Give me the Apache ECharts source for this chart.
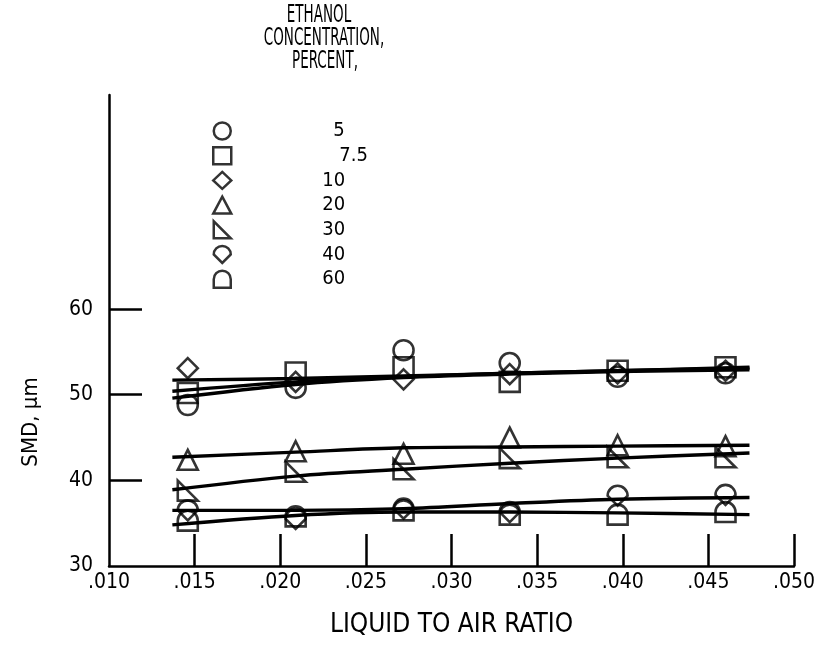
<!DOCTYPE html>
<html>
<head>
<meta charset="utf-8">
<script src="https://cdn.jsdelivr.net/npm/echarts@6/dist/echarts.min.js"></script>
<style>
  html, body { margin: 0; padding: 0; background: #fff; }
  #chart { width: 820px; height: 648px; }
</style>
</head>
<body>
<div id="chart"></div>
<script>
// Liquid-to-air ratio at which the drop sizes were measured
const ratios = [0.0146, 0.0209, 0.0272, 0.0334, 0.0397, 0.0460];

// Measured SMD (µm) for each ethanol concentration
const smd5   = [48.8, 50.8, 55.2, 53.7, 52.1, 52.5];
const smd7_5 = [50.2, 52.6, 53.2, 51.5, 52.8, 53.2];
const smd10  = [53.1, 51.5, 51.8, 52.4, 52.5, 52.8];
const smd20  = [42.4, 43.4, 43.1, 45.0, 44.1, 44.0];
const smd30  = [38.8, 41.0, 41.3, 42.6, 42.7, 42.7];
const smd40  = [36.5, 35.5, 36.7, 36.3, 38.2, 38.3];
const smd60  = [35.3, 35.8, 36.5, 36.0, 36.0, 36.3];

// Faired curves through each set of points
const fitRatios = [0.0137, 0.0209, 0.0272, 0.0334, 0.0397, 0.0474];
const fit5   = [49.6, 51.2, 52.0, 52.4, 52.7, 52.9];
const fit7_5 = [50.4, 51.5, 52.1, 52.5, 52.8, 53.2];
const fit10  = [51.7, 51.9, 52.2, 52.5, 52.8, 53.1];
const fit20  = [42.7, 43.3, 43.8, 43.9, 44.0, 44.1];
const fit30  = [38.9, 40.5, 41.3, 42.0, 42.6, 43.2];
const fit40  = [36.5, 36.5, 36.7, 37.3, 37.8, 38.0];
const fit60  = [34.8, 35.9, 36.3, 36.3, 36.2, 36.0];

const concentrations = ['5', '7.5', '10', '20', '30', '40', '60'];
const legendTitle = ['ETHANOL', 'CONCENTRATION,', 'PERCENT,'];
const xTicks = [0.010, 0.015, 0.020, 0.025, 0.030, 0.035, 0.040, 0.045, 0.050];
const yTickLabels = [30, 40, 50, 60];
const yTickMarks = [40, 50, 60];

const FONT = "'DejaVu Sans Condensed', 'DejaVu Sans', sans-serif";

const symbols = {
  '5': 'circle',
  '7.5': 'rect',
  '10': 'diamond',
  '20': 'triangle',
  '30': 'path://M0,0 L0,10 L10,10 Z',
  '40': 'path://M0,5 A5,5 0 0 1 10,5 L5,10 Z',
  '60': 'path://M0,10 L0,5 A5,5 0 0 1 10,5 L10,10 Z'
};

const measured = [smd5, smd7_5, smd10, smd20, smd30, smd40, smd60];
const fitted = [fit5, fit7_5, fit10, fit20, fit30, fit40, fit60];

const zip = (xs, ys) => xs.map((x, i) => [x, ys[i]]);

const series = [];
concentrations.forEach((c, i) => {
  series.push({
    type: 'line',
    data: zip(fitRatios, fitted[i]),
    smooth: 0.35,
    showSymbol: false,
    silent: true,
    lineStyle: { color: '#000', width: 3.4 },
    z: 2
  });
});
concentrations.forEach((c, i) => {
  series.push({
    name: c,
    type: 'scatter',
    data: zip(ratios, measured[i]),
    symbol: symbols[c],
    symbolSize: 20,
    symbolKeepAspect: true,
    itemStyle: { color: 'rgba(255,255,255,0)', borderColor: '#000', borderWidth: 2.6 },
    z: 3
  });
});

// extra left padding so the numbers line up in their column
const labelPad = { '5': 97, '7.5': 103 };

// condensed heading over the symbol key
const titleCenters = [319, 324, 325];
const titleRows = [15, 38, 61];
const headingTexts = legendTitle.map((t, i) => ({
  type: 'text',
  x: titleCenters[i],
  y: titleRows[i],
  scaleX: 0.6,
  style: {
    text: t,
    font: '25px ' + FONT,
    fill: '#000',
    textAlign: 'center',
    textVerticalAlign: 'middle'
  }
}));

const chart = echarts.init(document.getElementById('chart'), null, { renderer: 'canvas' });
chart.setOption({
  backgroundColor: '#fff',
  animation: false,
  textStyle: { fontFamily: FONT, color: '#000' },
  legend: {
    orient: 'vertical',
    left: 207,
    top: 116,
    itemWidth: 18,
    itemHeight: 17,
    itemGap: 4.7,
    selectedMode: false,
    itemStyle: { borderWidth: 2.5 },
    data: concentrations.map(c => ({
      name: c,
      textStyle: { padding: [0, 0, 0, labelPad[c] || 86] }
    })),
    textStyle: { fontFamily: FONT, fontSize: 20, color: '#000', lineHeight: 16 }
  },
  grid: { left: 109, right: 26, top: 95, bottom: 82, containLabel: false },
  xAxis: {
    type: 'value',
    min: 0.010,
    max: 0.050,
    interval: 0.005,
    name: 'LIQUID TO AIR RATIO',
    nameLocation: 'middle',
    nameGap: 46,
    nameTextStyle: { fontFamily: FONT, fontSize: 26, color: '#000' },
    splitLine: { show: false },
    axisLine: { lineStyle: { color: '#000', width: 2.5 } },
    axisTick: { inside: true, length: 32, lineStyle: { color: '#000', width: 2.5 },
                customValues: xTicks.slice(1) },
    axisLabel: {
      fontFamily: FONT, fontSize: 21, color: '#000', margin: 6,
      customValues: xTicks,
      formatter: v => '.' + v.toFixed(3).split('.')[1]
    }
  },
  yAxis: {
    type: 'value',
    min: 30,
    max: 85,
    interval: 10,
    splitLine: { show: false },
    axisLine: { lineStyle: { color: '#000', width: 2.5 } },
    axisTick: { inside: true, length: 33, lineStyle: { color: '#000', width: 2.5 },
                customValues: yTickMarks },
    axisLabel: {
      fontFamily: FONT, fontSize: 21, color: '#000', margin: 16,
      customValues: yTickLabels
    }
  },
  graphic: headingTexts.concat([{
    type: 'text',
    x: 31,
    y: 422,
    rotation: Math.PI / 2,
    style: {
      text: 'SMD, µm',
      font: '22px ' + FONT,
      fill: '#000',
      textAlign: 'center',
      textVerticalAlign: 'middle'
    }
  }]),
  series: series
});
</script>
</body>
</html>
